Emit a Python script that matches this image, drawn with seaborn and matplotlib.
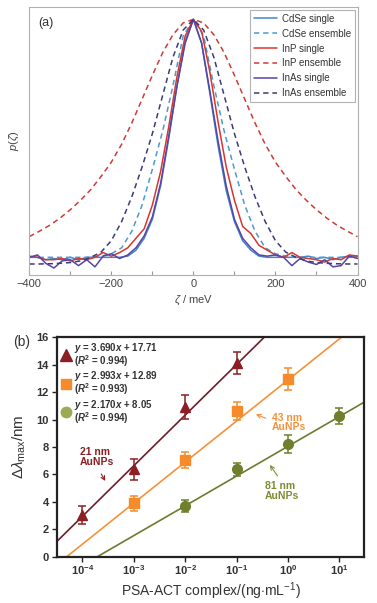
import numpy as np
import pandas as pd
import seaborn as sns
import matplotlib.pyplot as plt
from matplotlib.lines import Line2D
from matplotlib.ticker import FixedLocator, MultipleLocator, NullLocator

# ---------------- panel (a) data: normalised distributions p(zeta) ----------------
zeta_single = np.arange(-400, 401, 20)
cdse_single = [0.0, 0.0, -0.01, -0.005, -0.01, 0.0, -0.01, 0.0, 0.0, 0.0, 0.0, 0.0, 0.005,
               0.03, 0.08, 0.16, 0.30, 0.50, 0.72, 0.91, 1.0, 0.90, 0.69, 0.47, 0.28, 0.15,
               0.07, 0.03, 0.005, 0.0, 0.0, 0.0, 0.0, 0.0, 0.005, -0.005, 0.0, -0.01, 0.0, 0.005, 0.005]
inp_single = [0.005, 0.0, -0.01, -0.01, -0.005, -0.015, -0.005, -0.01, 0.0, 0.02, 0.005, 0.02, 0.04,
              0.08, 0.12, 0.22, 0.36, 0.55, 0.76, 0.93, 1.0, 0.95, 0.78, 0.57, 0.38, 0.24,
              0.13, 0.10, 0.05, 0.03, 0.01, 0.0, 0.02, 0.0, -0.005, -0.01, -0.02, -0.005, -0.01, 0.01, 0.005]
inas_single = [0.0, 0.01, -0.025, -0.045, -0.015, -0.01, -0.035, -0.01, -0.04, 0.005, 0.015, -0.005, 0.01,
               0.04, 0.09, 0.17, 0.31, 0.51, 0.72, 0.90, 1.0, 0.90, 0.70, 0.49, 0.30, 0.16,
               0.08, 0.04, 0.01, 0.005, 0.01, 0.0, -0.035, -0.005, -0.02, -0.03, -0.01, -0.04, -0.035, 0.005, -0.005]

zeta_ens = np.arange(-400, 401, 25)
cdse_half = [0.0, 0.0, 0.0, 0.0, 0.0, 0.0, 0.0, 0.005, 0.015, 0.04, 0.11, 0.22, 0.37, 0.53, 0.72, 0.93, 1.0]
inp_half = [0.087, 0.11, 0.135, 0.165, 0.20, 0.24, 0.285, 0.34, 0.40, 0.475, 0.565, 0.665, 0.765, 0.86, 0.935, 0.985, 1.0]
inas_half = [-0.028, -0.028, -0.027, -0.025, -0.022, -0.015, 0.0, 0.022, 0.07, 0.15, 0.255, 0.38, 0.52, 0.68, 0.84, 0.955, 1.0]
cdse_ens = cdse_half + cdse_half[-2::-1]
inp_ens = inp_half + inp_half[-2::-1]
inas_ens = inas_half + inas_half[-2::-1]

# ---------------- panel (b) data: LSPR shift vs PSA-ACT concentration ----------------
conc_21 = [1e-4, 1e-3, 1e-2, 1e-1]
shift_21 = [3.04, 6.37, 10.9, 14.1]
err_21 = [0.67, 0.77, 0.88, 0.8]
conc_43 = [1e-3, 1e-2, 1e-1, 1e0]
shift_43 = [3.89, 7.05, 10.63, 12.94]
err_43 = [0.55, 0.57, 0.63, 0.79]
conc_81 = [1e-2, 1e-1, 1e0, 1e1]
shift_81 = [3.7, 6.37, 8.22, 10.26]
err_81 = [0.45, 0.49, 0.67, 0.55]
slopes = [3.690, 2.993, 2.170]
intercepts = [17.71, 12.89, 8.05]
r2 = ["0.994", "0.993", "0.994"]

sns.set_theme(style="white")
plt.rcParams['font.family'] = ['Liberation Sans', 'DejaVu Sans']
plt.rcParams['mathtext.fontset'] = 'custom'
plt.rcParams['mathtext.rm'] = 'Liberation Sans'
plt.rcParams['mathtext.it'] = 'Liberation Sans:italic'
plt.rcParams['mathtext.bf'] = 'Liberation Sans:bold'
plt.rcParams['mathtext.bfit'] = 'Liberation Sans:bold:italic'

fig = plt.figure(figsize=(3.77, 6.03), dpi=100)
ax1 = fig.add_axes([0.0777, 0.5439, 0.8706, 0.4444])
ax2 = fig.add_axes([0.152, 0.0768, 0.8135, 0.3638])

# ---- (a)
series = [
    ("CdSe single", zeta_single, cdse_single, "#3f86cc", "-"),
    ("CdSe ensemble", zeta_ens, cdse_ens, "#4c9ad0", (0, (3.5, 2.5))),
    ("InP single", zeta_single, inp_single, "#d8362c", "-"),
    ("InP ensemble", zeta_ens, inp_ens, "#cf3b35", (0, (3.5, 2.5))),
    ("InAs single", zeta_single, inas_single, "#5a43a4", "-"),
    ("InAs ensemble", zeta_ens, inas_ens, "#3b3b78", (0, (3.5, 2.5))),
]
for name, xs, ys, col, ls in series:
    sns.lineplot(x=xs, y=ys, ax=ax1, color=col, lw=1.1, linestyle=ls, label=name)

ax1.set_xlim(-400, 400)
ax1.set_ylim(-0.0744, 1.0517)
ax1.xaxis.set_major_locator(MultipleLocator(200))
ax1.xaxis.set_minor_locator(MultipleLocator(100))
ax1.yaxis.set_major_locator(NullLocator())
ax1.tick_params(axis='x', which='both', direction='in', length=3, width=0.8, color='#999999',
                labelsize=8, labelcolor='#444444', pad=3, bottom=True, top=False)
for s in ax1.spines.values():
    s.set_color('#b0b0b0')
    s.set_linewidth(0.8)
ax1.set_xlabel(r"$\zeta$ / meV", fontsize=8, color='#444444', labelpad=3)
ax1.set_ylabel(r"$p(\zeta)$", fontsize=8, color='#444444', labelpad=6)
ax1.text(0.028, 0.94, "(a)", transform=ax1.transAxes, fontsize=9, color='#333333', va='center')
leg1 = ax1.legend(loc='upper right', fontsize=7, frameon=True, fancybox=False, edgecolor='#a0a0a0',
                  handlelength=2.3, labelspacing=0.5, borderaxespad=0.3, borderpad=0.4, handletextpad=0.5)
leg1.get_frame().set_linewidth(0.8)
for t in leg1.get_texts():
    t.set_color('#333333')

# ---- (b)
groups = [
    (conc_21, shift_21, err_21, "^", 7.5, "#8b1f24", "#6e1d2a", "#8b1f24"),
    (conc_43, shift_43, err_43, "s", 6.5, "#f58b2a", "#f5923a", "#f58b2a"),
    (conc_81, shift_81, err_81, "o", 7, "#6f7f2c", "#6b7b30", "#9aab52"),
]
xlo, xhi = 10 ** -4.49, 10 ** 1.48
xfit = np.logspace(-4.49, 1.48, 100)
handles = []
labels = []
for (cx, sy, ey, mk, ms, col, lcol, hcol), a, b, r in zip(groups, slopes, intercepts, r2):
    fit = pd.DataFrame({"c": xfit, "d": a * np.log10(xfit) + b})
    sns.lineplot(data=fit, x="c", y="d", ax=ax2, color=lcol, lw=1.2)
    ax2.errorbar(cx, sy, yerr=ey, fmt=mk, ms=ms, color=col, ecolor=col, elinewidth=1.1,
                 capsize=3, capthick=1.1, zorder=3)
    handles.append(Line2D([], [], ls='none', marker=mk, ms=ms + 0.5, color=hcol))
    labels.append(r"$\mathbfit{y}$ = %.3f$\mathbfit{x}$ + %.2f" % (a, b) + "\n" +
                  r"($\mathbfit{R}^{\mathbf{2}}$ = " + r + ")")

ax2.set_xscale('log')
ax2.set_xlim(xlo, xhi)
ax2.set_ylim(0, 16)
ax2.xaxis.set_major_locator(FixedLocator([1e-4, 1e-3, 1e-2, 1e-1, 1e0, 1e1]))
ax2.xaxis.set_minor_locator(NullLocator())
ax2.set_xticklabels([r"$\mathbf{10^{-4}}$", r"$\mathbf{10^{-3}}$", r"$\mathbf{10^{-2}}$",
                     r"$\mathbf{10^{-1}}$", r"$\mathbf{10^{0}}$", r"$\mathbf{10^{1}}$"])
ax2.yaxis.set_major_locator(MultipleLocator(2))
ax2.tick_params(axis='both', direction='out', length=3.5, width=1, color='#222222',
                labelsize=8, labelcolor='#333333', pad=2.5, bottom=True, left=True)
ax2.tick_params(axis='x', pad=1.5)
for t in ax2.get_yticklabels():
    t.set_fontweight('bold')
for s in ax2.spines.values():
    s.set_color('#222222')
    s.set_linewidth(1.6)
ax2.set_xlabel(r"PSA-ACT complex/(ng$\cdot$mL$^{-1}$)", fontsize=10, color='#333333')
ax2.xaxis.set_label_coords(0.5, -0.11)
ax2.set_ylabel(r"$\Delta\lambda_{\rm max}$/nm", fontsize=11, color='#333333', labelpad=6)

leg2 = ax2.legend(handles, labels, loc='upper left', frameon=False, handlelength=1.0,
                  handletextpad=0.4, borderaxespad=0.15, borderpad=0.2, labelspacing=0.05,
                  prop={'weight': 'bold', 'size': 7})
for t in leg2.get_texts():
    t.set_color('#333333')
    t.set_linespacing(0.85)

notes = [
    ("21 nm\nAuNPs", 10 ** -4.05, 7.29, (10 ** -3.66, 6.2), (10 ** -3.53, 5.35), "#8b1f24"),
    ("43 nm\nAuNPs", 10 ** -0.316, 9.8, (10 ** -0.382, 10.02), (10 ** -0.674, 10.46), "#f5923a"),
    ("81 nm\nAuNPs", 10 ** -0.446, 4.79, (10 ** -0.173, 5.72), (10 ** -0.382, 6.86), "#7f8c30"),
]
for txt, tx, ty, tail, head, col in notes:
    ax2.text(tx, ty, txt, color=col, fontsize=7.5, fontweight='bold', ha='left', va='center',
             linespacing=0.95)
    ax2.annotate("", xy=head, xytext=tail,
                 arrowprops=dict(arrowstyle='->', color=col, lw=0.8, mutation_scale=7))

fig.text(0.035, 0.433, "(b)", fontsize=10, color='#333333', va='center')

fig.savefig("out.png", dpi=100)
